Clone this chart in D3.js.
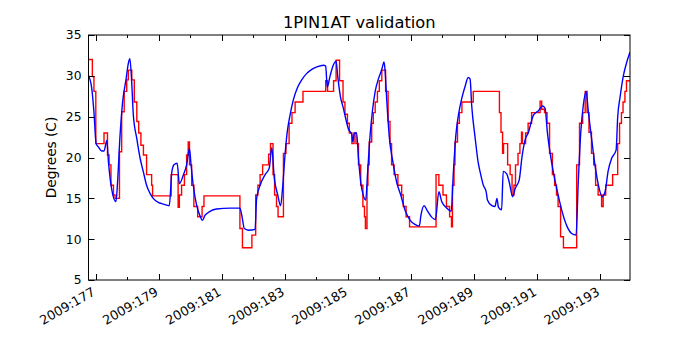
<!doctype html>
<html lang="en">
<head>
  <title>1PIN1AT validation</title>
  <script src="https://d3js.org/d3.v7.min.js"></script>
  <style>
    body { margin: 0px; background: #fff; }
    text { font-family: "DejaVu Sans", sans-serif; fill: #000; }
  </style>
</head>
<body>
  <div id="container"></div>
  <script>
    // observed (red, stepped) : [day of year, temp C]
    var obsSeries = [
      [176.79,32.0],[176.90,29.9],[176.95,28.1],[177.01,21.7],[177.27,23.0],[177.38,20.3],[177.43,19.1],[177.49,16.6],[177.57,15.4],[177.62,15.0],[177.76,20.7],[177.83,25.6],[177.91,28.1],[177.99,29.5],[178.04,30.7],[178.15,29.5],[178.23,26.8],[178.31,24.4],[178.37,23.0],[178.44,21.5],[178.52,20.3],[178.62,17.9],[178.78,16.6],[178.81,15.3],
      [179.40,17.9],[179.62,13.9],[179.66,15.4],[179.73,16.6],[179.82,17.9],[179.89,20.3],[179.94,21.9],[179.98,19.1],[180.05,16.6],[180.12,14.0],[180.24,12.75],[180.38,14.0],[180.44,15.3],
      [181.58,11.3],[181.66,8.95],[181.96,10.5],[182.08,15.4],[182.15,16.6],[182.22,17.9],[182.30,19.1],[182.49,20.4],[182.55,21.7],[182.63,17.9],[182.68,15.4],[182.74,14.0],[182.79,12.75],[182.96,20.5],[183.04,21.7],[183.14,24.2],[183.23,25.5],[183.33,26.8],[183.58,28.1],
      [184.30,29.4],[184.36,28.1],[184.55,29.4],[184.63,31.9],[184.74,29.4],[184.85,26.8],[184.91,25.3],[184.99,24.2],[185.05,23.0],[185.13,21.7],[185.20,23.0],[185.26,21.7],[185.34,19.1],[185.41,16.6],[185.48,14.0],[185.53,12.75],[185.56,11.3],[185.61,16.6],[185.64,19.1],[185.68,21.9],[185.76,24.2],[185.81,25.5],[185.87,26.8],[185.94,28.1],[186.00,29.4],[186.08,30.7],[186.20,28.1],[186.28,24.4],[186.34,21.7],[186.39,19.1],[186.47,17.9],[186.59,16.6],[186.71,15.4],[186.76,14.0],[186.85,12.75],[186.96,11.5],
      [187.80,17.9],[187.89,16.6],[188.02,15.4],[188.13,14.0],[188.23,12.75],[188.29,11.5],[188.32,16.6],[188.37,19.1],[188.40,21.9],[188.48,24.2],[188.54,25.5],[188.62,26.8],[188.98,28.1],
      [189.81,25.5],[189.86,23.1],[189.91,20.5],[189.94,21.7],[190.07,19.1],[190.15,17.9],[190.21,15.4],[190.27,16.6],[190.32,19.1],[190.40,20.5],[190.46,21.7],[190.51,23.1],[190.54,21.7],[190.64,23.0],[190.72,24.2],[190.83,25.5],[191.10,26.9],[191.15,25.9],[191.24,25.5],[191.32,24.2],[191.40,20.5],[191.49,17.9],[191.56,16.6],[191.62,15.4],[191.67,14.0],[191.75,10.3],[191.84,8.95],
      [192.26,19.1],[192.35,24.2],[192.45,25.5],[192.53,28.1],[192.59,25.5],[192.65,23.1],[192.73,20.5],[192.80,19.1],[192.86,16.6],[192.94,15.4],[193.05,14.0],[193.10,15.4],[193.18,16.6],[193.40,17.9],[193.56,21.7],[193.62,24.2],[193.68,25.5],[193.73,26.8],[193.79,28.1],[193.84,29.4],[193.96,29.4]
    ];

    // model (blue) : [day of year, temp C]
    var modelSeries = [
      [176.77,30.1],[176.88,28.5],[176.95,25.6],[177.02,21.7],[177.09,21.3],[177.20,20.8],[177.27,20.8],[177.36,22.1],[177.41,19.5],[177.51,16.2],[177.65,14.6],[177.70,17.0],[177.78,22.8],[177.86,26.8],[177.97,29.6],[178.04,31.5],[178.09,32.1],[178.15,29.1],[178.20,25.2],[178.31,22.3],[178.41,20.0],[178.52,18.2],[178.62,16.6],[178.73,15.6],[178.83,15.0],[178.99,14.5],[179.15,14.3],[179.34,14.1],
      [179.42,18.2],[179.49,19.1],[179.59,19.3],[179.66,16.8],[179.79,17.9],[179.89,19.1],[179.98,21.1],[180.03,19.1],[180.10,16.6],[180.21,14.1],[180.31,12.9],[180.39,12.3],[180.47,12.9],[180.63,13.4],[180.84,13.7],[181.27,13.8],[181.58,13.8],
      [181.64,12.9],[181.72,11.3],[181.85,11.1],[182.06,11.2],[182.11,15.0],[182.22,16.6],[182.38,17.9],[182.51,18.7],[182.59,21.2],[182.67,17.5],[182.78,15.4],[182.87,14.1],[182.94,16.6],[183.01,20.3],[183.08,23.1],[183.17,25.2],[183.27,27.0],[183.40,28.5],[183.54,29.5],[183.70,30.3],[183.86,30.8],[184.02,31.1],[184.23,31.3],[184.30,31.2],
      [184.35,28.6],[184.44,30.0],[184.54,31.3],[184.63,31.8],[184.68,30.0],[184.78,27.2],[184.85,26.2],[184.97,24.2],[185.02,23.5],[185.13,22.8],[185.16,21.9],[185.21,23.0],[185.28,23.0],[185.34,19.9],[185.41,17.0],[185.49,15.4],[185.57,14.8],[185.63,18.2],[185.71,22.8],[185.78,25.6],[185.87,28.1],[185.97,29.6],[186.08,30.8],[186.15,31.7],[186.18,30.8],
      [186.24,26.8],[186.32,22.4],[186.43,19.5],[186.55,17.0],[186.68,15.4],[186.82,13.5],[186.98,12.3],[187.13,11.8],[187.27,11.6],[187.32,12.9],[187.42,14.1],[187.52,13.5],[187.66,12.7],[187.78,12.4],[187.89,15.8],[187.98,14.6],[188.14,13.8],[188.28,13.4],
      [188.35,18.2],[188.43,22.8],[188.51,25.2],[188.62,27.3],[188.72,28.7],[188.82,29.8],[188.88,29.6],[188.93,26.4],[189.04,22.4],[189.14,19.3],[189.20,18.2],[189.30,16.6],[189.39,15.8],[189.43,14.8],[189.57,14.1],[189.67,14.0],[189.73,15.0],[189.78,13.9],[189.88,13.6],
      [189.93,18.3],[190.04,18.0],[190.12,17.0],[190.23,15.2],[190.31,16.2],[190.44,17.3],[190.52,19.9],[190.62,22.1],[190.73,23.1],[190.89,25.2],[191.04,25.7],[191.18,26.3],[191.26,26.0],[191.33,23.1],[191.42,20.5],[191.52,18.2],[191.65,15.8],[191.79,13.5],[191.95,11.6],[192.10,10.7],[192.24,10.5],
      [192.31,17.0],[192.39,23.1],[192.47,26.4],[192.56,28.1],[192.63,25.6],[192.74,22.1],[192.84,19.1],[192.95,16.6],[193.07,15.2],[193.16,15.8],[193.26,18.4],[193.37,19.9],[193.51,20.9],[193.56,24.9],[193.64,27.5],[193.74,30.0],[193.85,31.7],[193.95,32.9]
    ];

    var xMajorTicks = [177, 179, 181, 183, 185, 187, 189, 191, 193];
    var xMinorTicks = [178, 180, 182, 184, 186, 188, 190, 192];
    var yTicks = [5, 10, 15, 20, 25, 30, 35];
    var year = "2009";

    var width = 700, height = 350;
    var plot = { left: 88.5, right: 630, top: 35, bottom: 280 };

    var svg = d3.select("#container").append("svg")
        .attr("width", width)
        .attr("height", height);

    var x = d3.scaleLinear().domain([176.778, 193.951]).range([plot.left, plot.right]);
    var y = d3.scaleLinear().domain([5, 35]).range([plot.bottom, plot.top]);

    svg.append("clipPath").attr("id", "clip")
      .append("rect")
        .attr("x", plot.left).attr("y", plot.top)
        .attr("width", plot.right - plot.left).attr("height", plot.bottom - plot.top);

    var lines = svg.append("g").attr("clip-path", "url(#clip)");

    lines.append("path")
        .datum(obsSeries)
        .attr("fill", "none")
        .attr("stroke", "#ff0000")
        .attr("stroke-width", 1.4)
        .attr("d", d3.line().curve(d3.curveStepAfter)
            .x(function(d) { return x(d[0]); })
            .y(function(d) { return y(d[1]); }));

    lines.append("path")
        .datum(modelSeries)
        .attr("fill", "none")
        .attr("stroke", "#0000ff")
        .attr("stroke-width", 1.4)
        .attr("d", d3.line().curve(d3.curveMonotoneX)
            .x(function(d) { return x(d[0]); })
            .y(function(d) { return y(d[1]); }));

    // ticks point inward on all four sides (matplotlib classic)
    var ticks = svg.append("g").attr("stroke", "#000").attr("stroke-width", 1);
    function vTicks(vals, len) {
      vals.forEach(function(v) {
        var px = Math.round(x(v)) + 0.5;
        ticks.append("line").attr("x1", px).attr("x2", px).attr("y1", plot.bottom).attr("y2", plot.bottom - len);
        ticks.append("line").attr("x1", px).attr("x2", px).attr("y1", plot.top).attr("y2", plot.top + len);
      });
    }
    vTicks(xMajorTicks, 6);
    vTicks(xMinorTicks, 3);
    yTicks.forEach(function(v) {
      var py = Math.round(y(v)) + 0.5;
      ticks.append("line").attr("x1", plot.left).attr("x2", plot.left + 6).attr("y1", py).attr("y2", py);
      ticks.append("line").attr("x1", plot.right).attr("x2", plot.right - 6).attr("y1", py).attr("y2", py);
    });

    svg.append("rect")
        .attr("x", plot.left).attr("y", plot.top)
        .attr("width", plot.right - plot.left).attr("height", plot.bottom - plot.top)
        .attr("fill", "none").attr("stroke", "#000").attr("stroke-width", 1);

    // tick labels
    svg.append("g").selectAll("text")
      .data(yTicks).enter().append("text")
        .attr("x", plot.left - 7)
        .attr("y", function(d) { return y(d); })
        .attr("dy", "0.36em")
        .attr("text-anchor", "end")
        .style("font-size", "12.3px")
        .text(function(d) { return d; });

    svg.append("g").selectAll("text")
      .data(xMajorTicks).enter().append("text")
        .attr("transform", function(d) { return "translate(" + (x(d) + 0.5) + "," + (plot.bottom + 14.5) + ")rotate(-30)"; })
        .attr("text-anchor", "end")
        .style("font-size", "12.8px")
        .text(function(d) { return year + ":" + d; });

    svg.append("text")
        .attr("x", (plot.left + plot.right) / 2)
        .attr("y", 28.3)
        .attr("text-anchor", "middle")
        .style("font-size", "16.3px")
        .text("1PIN1AT validation");

    svg.append("text")
        .attr("transform", "translate(55.5," + ((plot.top + plot.bottom) / 2) + ")rotate(-90)")
        .attr("text-anchor", "middle")
        .style("font-size", "13.7px")
        .text("Degrees (C)");
  </script>
</body>
</html>
